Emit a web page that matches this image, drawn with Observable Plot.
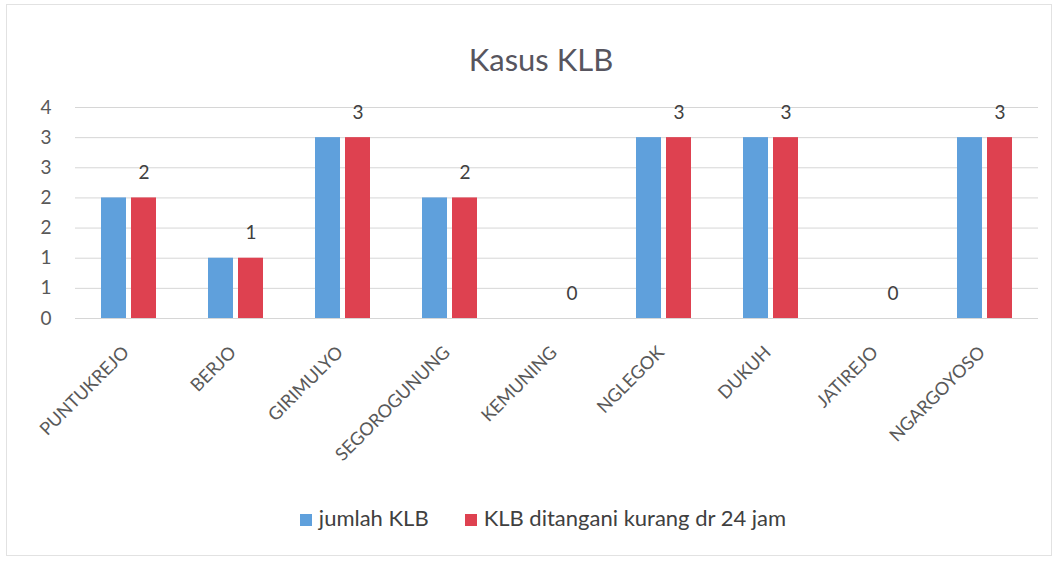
<!DOCTYPE html>
<html><head><meta charset="utf-8">
<script src="https://cdn.jsdelivr.net/npm/d3@7"></script>
<script src="https://cdn.jsdelivr.net/npm/@observablehq/plot@0.6"></script>
<style>
body{margin:0;background:#fff;font-family:Lato,"Open Sans",sans-serif;}
#wrap{position:relative;width:1057px;height:562px;overflow:hidden;background:#fff;}
#frame{position:absolute;left:6px;top:4px;width:1046px;height:552px;border:1px solid #e2e2e2;box-sizing:border-box;}
#title{position:absolute;left:0;width:1082px;top:40px;text-align:center;font-size:31px;color:#57555e;}
#chart{position:absolute;left:0;top:0;}
#legend{position:absolute;left:0;width:1086px;top:504px;text-align:center;font-size:22px;color:#404040;white-space:nowrap;}
#legend span.sw{display:inline-block;width:12px;height:12px;margin-right:7px;vertical-align:0px;}
#legend span.it{margin:0 18px;}
</style></head>
<body><div id="wrap"><div id="frame"></div><div id="chart"></div><div id="title"></div><div id="legend"></div></div>
<script>
const categories = ["PUNTUKREJO","BERJO","GIRIMULYO","SEGOROGUNUNG","KEMUNING","NGLEGOK","DUKUH","JATIREJO","NGARGOYOSO"];
const jumlahKLB = [2,1,3,2,0,3,3,0,3];
const ditangani = [2,1,3,2,0,3,3,0,3];
const seriesNames = ["jumlah KLB","KLB ditangani kurang dr 24 jam"];
const seriesColors = ["#5fa0dc","#de4150"];
const yTicks = [0,0.5,1,1.5,2,2.5,3,3.5];
const titleText = "Kasus KLB";

const data = categories.map((c,i)=>({cat:c, a:jumlahKLB[i], b:ditangani[i]}));

const W = 1057, H = 480, mL = 75, mR = 19;
const step = (W - mL - mR) / categories.length;
const barW = 25, gap = 5;
const groupLeft = (step - (2*barW + gap)) / 2;

const chart = Plot.plot({
  width: W, height: H,
  marginLeft: mL, marginRight: mR, marginTop: 107, marginBottom: 162,
  style: {fontFamily: "Lato, 'Open Sans', sans-serif", color: "#595959", background: "transparent"},
  x: {domain: categories, padding: 0, label: null},
  y: {domain: [0, 3.5], label: null},
  marks: [
    Plot.gridY(yTicks, {stroke: "#d6d6d6", strokeOpacity: 1, strokeWidth: 1}),
    Plot.axisY(yTicks, {tickSize: 0, tickPadding: 24, fontSize: 19, tickFormat: d => Math.round(d), fill: "#595959", label: null}),
    Plot.axisX({tickSize: 0, tickRotate: -45, fontSize: 18, tickPadding: 31, dx: -3, fill: "#595959", label: null}),
    Plot.barY(data, {x: "cat", y: "a", fill: seriesColors[0], insetLeft: groupLeft, insetRight: step - groupLeft - barW}),
    Plot.barY(data, {x: "cat", y: "b", fill: seriesColors[1], insetLeft: groupLeft + barW + gap, insetRight: groupLeft}),
    Plot.text(data, {x: "cat", y: "b", text: d => String(d.b), dx: (barW + gap)/2, dy: -25, fontSize: 19, fill: "#404040"})
  ]
});
document.getElementById("chart").appendChild(chart);
document.getElementById("title").textContent = titleText;
const lg = document.getElementById("legend");
seriesNames.forEach((n,i)=>{
  const it = document.createElement("span"); it.className="it";
  const sw = document.createElement("span"); sw.className="sw"; sw.style.background = seriesColors[i];
  it.appendChild(sw); it.appendChild(document.createTextNode(n)); lg.appendChild(it);
});
</script></body></html>
